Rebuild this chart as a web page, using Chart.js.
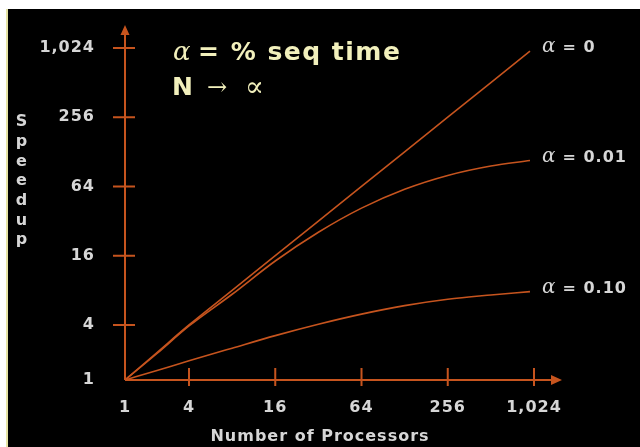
<!DOCTYPE html>
<html>
<head>
    <title>Amdahl Speedup</title>
    <script src="https://cdn.jsdelivr.net/npm/chart.js"></script>
    <style>
        body {
            margin: 0;
            background: #ffffff;
            width: 640px;
            height: 447px;
            overflow: hidden;
        }
        #frame {
            position: absolute;
            left: 6px;
            top: 9px;
            width: 632px;
            height: 438px;
            border-left: 2px solid #e6e4a4;
            background: #000000;
        }
        canvas {
            display: block;
        }
    </style>
</head>
<body>
    <div id="frame">
        <canvas id="speedupChart" width="632" height="438"></canvas>
    </div>

    <script>
        // values
        const processors = [1, 2, 4, 8, 16, 32, 64, 128, 256, 512, 960];
        const seriesNames = ['α = 0', 'α = 0.01', 'α = 0.10'];
        const speedupA0 = [1, 2, 4, 8, 16, 32, 64, 128, 256, 512, 960];
        const speedupA001 = [1, 1.95, 3.9, 7.4, 14.4, 25.6, 41.5, 60.6, 79.9, 96.5, 107.7];
        const speedupA010 = [1, 1.27, 1.62, 2.23, 3.06, 4.06, 4.97, 5.89, 6.69, 7.29, 7.8];
        const tickValues = [1, 4, 16, 64, 256, 1024];
        const tickLabels = ['1', '4', '16', '64', '256', '1,024'];

        const ORANGE = '#c6541e';
        const TEXT = '#d6d6d6';
        const CREAM = '#f2f0bc';

        // the first step (1 -> 4) is drawn shorter than the others on both axes
        const firstStep = { x: 0.1565, y: 0.1657 };

        class StepLogScale extends Chart.LogarithmicScale {
            getPixelForValue(value) {
                if (value === null || isNaN(value)) return NaN;
                const f = firstStep[this.id];
                const t = Math.log(value) / Math.log(4);
                const tMax = Math.log(this.max) / Math.log(4);
                const d = t < 1 ? t * f : f + (t - 1) * (1 - f) / (tMax - 1);
                return this.getPixelForDecimal(d);
            }
            getValueForPixel(pixel) {
                const f = firstStep[this.id];
                const d = this.getDecimalForPixel(pixel);
                const tMax = Math.log(this.max) / Math.log(4);
                const t = d < f ? d / f : 1 + (d - f) / (1 - f) * (tMax - 1);
                return Math.pow(4, t);
            }
        }
        StepLogScale.id = 'steplog';
        StepLogScale.defaults = Chart.LogarithmicScale.defaults;
        Chart.register(StepLogScale);

        function toPoints(values) {
            return processors.map((n, i) => ({ x: n, y: values[i] }));
        }

        const decorations = {
            id: 'decorations',
            beforeDraw(chart) {
                chart.ctx.letterSpacing = '1px';
            },
            afterDatasetsDraw(chart) {
                const { ctx, chartArea: a, scales: { x, y } } = chart;
                ctx.save();
                ctx.strokeStyle = ORANGE;
                ctx.fillStyle = ORANGE;
                ctx.lineWidth = 2;

                // axes and crossing ticks
                ctx.beginPath();
                ctx.moveTo(a.left, a.bottom);
                ctx.lineTo(a.left, a.top - 14);
                ctx.moveTo(a.left, a.bottom);
                ctx.lineTo(a.right + 18, a.bottom);
                tickValues.slice(1).forEach(v => {
                    const py = y.getPixelForValue(v);
                    ctx.moveTo(a.left - 12, py);
                    ctx.lineTo(a.left + 10, py);
                    const px = x.getPixelForValue(v);
                    ctx.moveTo(px, a.bottom - 12);
                    ctx.lineTo(px, a.bottom + 6);
                });
                ctx.stroke();

                // arrow heads
                ctx.beginPath();
                ctx.moveTo(a.left, a.top - 23);
                ctx.lineTo(a.left - 4.5, a.top - 13);
                ctx.lineTo(a.left + 4.5, a.top - 13);
                ctx.closePath();
                ctx.moveTo(a.right + 28, a.bottom);
                ctx.lineTo(a.right + 17, a.bottom - 5);
                ctx.lineTo(a.right + 17, a.bottom + 5);
                ctx.closePath();
                ctx.fill();

                // axis titles
                ctx.fillStyle = TEXT;
                ctx.textAlign = 'center';
                ctx.textBaseline = 'middle';
                ctx.font = 'bold 16px "DejaVu Sans"';
                'Speedup'.split('').forEach((ch, i) => {
                    ctx.fillText(ch, 14, 113 + i * 19.7);
                });
                ctx.fillText('Number of Processors', 312, 428);

                // series labels at line ends
                ctx.textAlign = 'left';
                chart.data.datasets.forEach((ds, i) => {
                    const pts = chart.getDatasetMeta(i).data;
                    const end = pts[pts.length - 1];
                    const parts = seriesNames[i].split(' ');
                    let lx = end.x + 12;
                    const ly = end.y - 4;
                    ctx.font = 'italic 20px "DejaVu Serif"';
                    ctx.fillText(parts[0], lx, ly);
                    lx += ctx.measureText(parts[0]).width + 6;
                    ctx.font = 'bold 16px "DejaVu Sans"';
                    ctx.fillText(parts.slice(1).join(' '), lx, ly + 1);
                });

                // headline
                ctx.fillStyle = CREAM;
                ctx.letterSpacing = '0px';
                ctx.font = 'italic 26px "DejaVu Serif"';
                ctx.fillText('α', 165, 44);
                ctx.letterSpacing = '1.5px';
                ctx.font = 'bold 25px "DejaVu Sans"';
                ctx.fillText('= % seq time', 190, 44);
                ctx.fillText('N', 164, 79);
                ctx.letterSpacing = '0px';
                ctx.font = '24px "DejaVu Serif"';
                ctx.fillText('→', 199, 80);
                ctx.font = '28px "DejaVu Serif"';
                ctx.fillText('∝', 237, 80);
                ctx.restore();
            }
        };

        const lineStyle = {
            borderColor: ORANGE,
            borderWidth: 1.6,
            pointRadius: 0,
            fill: false,
            cubicInterpolationMode: 'monotone'
        };

        const axisTicks = {
            color: TEXT,
            font: { family: 'DejaVu Sans', size: 16, weight: 'bold' },
            autoSkip: false,
            maxRotation: 0,
            callback: (value, index) => tickLabels[index]
        };

        new Chart(document.getElementById('speedupChart'), {
            type: 'line',
            data: {
                datasets: [
                    { label: seriesNames[0], data: toPoints(speedupA0), ...lineStyle },
                    { label: seriesNames[1], data: toPoints(speedupA001), ...lineStyle },
                    { label: seriesNames[2], data: toPoints(speedupA010), ...lineStyle }
                ]
            },
            options: {
                responsive: false,
                animation: false,
                layout: { padding: { top: 39, right: 106, left: 0, bottom: 0 } },
                plugins: {
                    legend: { display: false },
                    tooltip: { enabled: false }
                },
                scales: {
                    x: {
                        type: 'steplog',
                        min: 1,
                        max: 1024,
                        grid: { display: false },
                        border: { display: false },
                        afterBuildTicks: scale => { scale.ticks = tickValues.map(v => ({ value: v })); },
                        afterFit: scale => { scale.height = 67; },
                        ticks: { ...axisTicks, padding: 10 }
                    },
                    y: {
                        type: 'steplog',
                        min: 1,
                        max: 1024,
                        grid: { display: false },
                        border: { display: false },
                        afterBuildTicks: scale => { scale.ticks = tickValues.map(v => ({ value: v })); },
                        afterFit: scale => { scale.width = 117; },
                        ticks: { ...axisTicks, padding: 22 }
                    }
                }
            },
            plugins: [decorations]
        });
    </script>
</body>
</html>
